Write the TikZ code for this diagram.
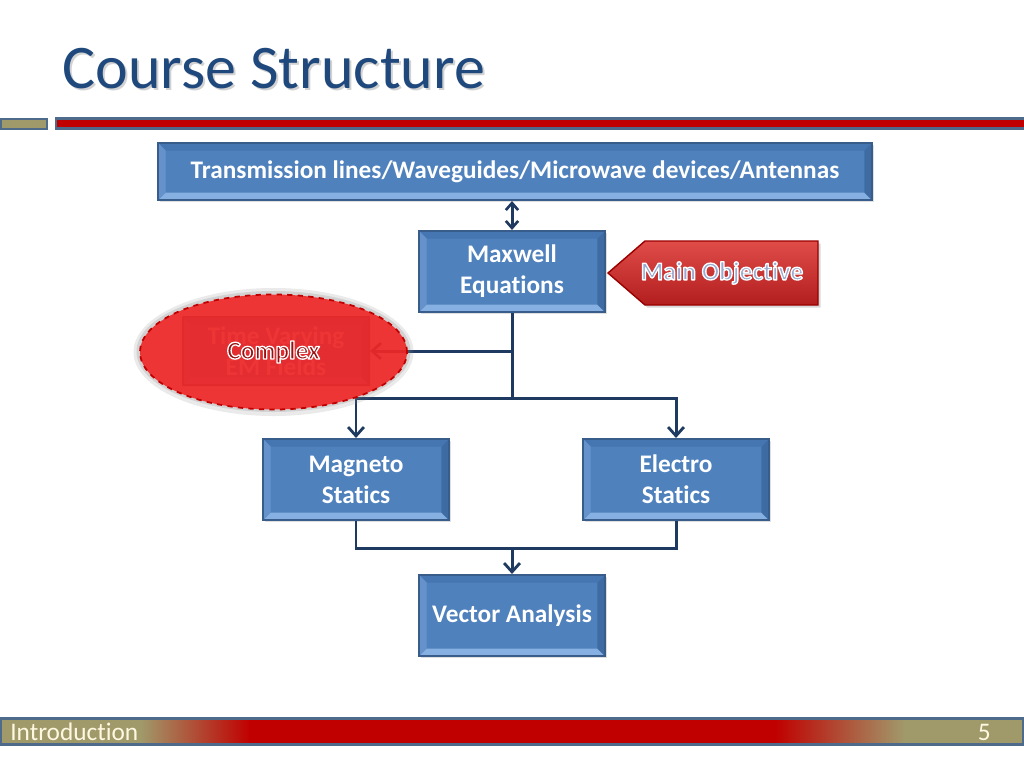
\documentclass[tikz,border=0pt]{standalone}
\usepackage{fontspec}
\setmainfont{Carlito}[Ligatures={NoCommon}]
\usetikzlibrary{arrows.meta,shapes.geometric,shadows}
\definecolor{titleblue}{HTML}{1F497D}
\definecolor{boxfill}{HTML}{4F81BD}
\definecolor{bevtop}{HTML}{4676B2}
\definecolor{bevbot}{HTML}{86AFE2}
\definecolor{bevleft}{HTML}{6592CB}
\definecolor{bevright}{HTML}{3F6BA3}
\definecolor{boxborder}{HTML}{385D8A}
\definecolor{navy}{HTML}{1F3A60}
\definecolor{olive}{HTML}{A09A6B}
\definecolor{barred}{HTML}{C00000}
\definecolor{barborder}{HTML}{4F6B8C}
\definecolor{cream}{HTML}{FFF8E1}
\definecolor{cxred}{HTML}{F22424}
\definecolor{cxborder}{HTML}{C00000}
\definecolor{cxtext}{HTML}{9A1010}
\definecolor{objtext}{HTML}{9AAAD0}
\newcommand{\bevw}{0.15cm}
\newcommand{\outlinetext}[2]{{\color{#1}\special{pdf:literal direct 1 1 1 RG 0.75 w 1 j 2 Tr}#2\special{pdf:literal direct 0 Tr}}}
\tikzset{
  bevel/.style={path picture={
    \coordinate (pnw) at (path picture bounding box.north west);
    \coordinate (pne) at (path picture bounding box.north east);
    \coordinate (psw) at (path picture bounding box.south west);
    \coordinate (pse) at (path picture bounding box.south east);
    \fill[bevtop] (pnw) -- (pne) -- ([shift={(-\bevw,-\bevw)}]pne) -- ([shift={(\bevw,-\bevw)}]pnw) -- cycle;
    \fill[bevbot] (psw) -- (pse) -- ([shift={(-\bevw,\bevw)}]pse) -- ([shift={(\bevw,\bevw)}]psw) -- cycle;
    \fill[bevleft] (pnw) -- (psw) -- ([shift={(\bevw,\bevw)}]psw) -- ([shift={(\bevw,-\bevw)}]pnw) -- cycle;
    \fill[bevright] (pne) -- (pse) -- ([shift={(-\bevw,\bevw)}]pse) -- ([shift={(-\bevw,-\bevw)}]pne) -- cycle;
  }},
  box/.style={rectangle, fill=boxfill, draw=boxborder, line width=1.2pt, bevel,
    minimum width=3.72cm, minimum height=1.62cm, inner sep=0pt,
    text=white, align=center, font=\fontsize{14.4}{17.6}\selectfont\bfseries,
    drop shadow={shadow xshift=1.2pt, shadow yshift=-1.2pt, opacity=0.25}},
  conn/.style={draw=navy, line width=1.7pt},
  arr/.style={-{Straight Barb[length=5pt,width=9pt,line width=1.6pt]}},
  darr/.style={{Straight Barb[length=4pt,width=7pt,line width=1.5pt]}-{Straight Barb[length=4pt,width=7pt,line width=1.5pt]}},
}
\begin{document}
\begin{tikzpicture}[x=0.02cm,y=-0.02cm]
\useasboundingbox (0,0) rectangle (1024,768);
\fill[white] (0,0) rectangle (1024,768);
% title with soft shadow
\node[anchor=base west, inner sep=0pt, text=gray, text opacity=0.35, font=\fontsize{35.3}{40}\selectfont] (titleshadow) at (64,90) {Course Structure};
\node[anchor=base west, inner sep=0pt, text=titleblue, font=\fontsize{35.3}{40}\selectfont] (title) at (62,88) {Course Structure};
% header bars
\draw[fill=olive, draw=barborder, line width=1.2pt] (1,119) rectangle (47,129);
\draw[fill=barred, draw=barborder, line width=1.2pt] (56,118.5) rectangle (1030,128.5);
% footer bar
\fill[olive] (0,719) rectangle (1024,744);
\shade[left color=olive, right color=barred] (140,719) rectangle (250,744);
\fill[barred] (249,719) rectangle (776,744);
\shade[left color=barred, right color=olive] (775,719) rectangle (905,744);
\draw[barborder, line width=1.4pt] (0.5,718.5) rectangle (1023.5,744.5);
\node[anchor=base west, inner sep=0pt, text=cream, font=\fontsize{14.4}{17}\selectfont] (foot) at (10,740) {Introduction};
\node[anchor=base east, inner sep=0pt, text=cream, font=\fontsize{14.4}{17}\selectfont] (page) at (991,740) {5};
% boxes
\node[box, minimum width=14.28cm, minimum height=1.14cm] (top) at (515,171.5) {Transmission lines/Waveguides/Microwave devices/Antennas};
\node[box] (max) at (512,271.5) {Maxwell\\Equations};
\node[box] (mag) at (356,479.5) {Magneto\\Statics};
\node[box] (ele) at (676,479.5) {Electro\\Statics};
\node[box] (vec) at (512,615.5) {Vector Analysis};
\node[box, minimum height=1.36cm] (tv) at (276,351) {Time Varying\\EM Fields};
% connectors
\coordinate (j1) at (512,398);
\coordinate (j2) at (512,548);
\draw[conn, darr] (max.north |- top.south) -- (max.north);
\draw[conn] (max.south) -- (j1);
\draw[conn, arr] (max.south |- tv.east) -- (tv.east);
\draw[conn, arr] (j1) -| (mag.north);
\draw[conn, arr] (j1) -| (ele.north);
\draw[conn] (mag.south) |- (j2);
\draw[conn] (ele.south) |- (j2);
\draw[conn, arr] (j2) -- (vec.north);
% complex ellipse with glow
\fill[gray, opacity=0.16] (273.5,352) ellipse (140 and 64);
\fill[gray, opacity=0.22] (273.5,351.5) ellipse (137 and 60.5);
\node[ellipse, fill=cxred, fill opacity=0.9, draw=cxborder, draw opacity=1, dashed, line width=1pt,
  minimum width=5.34cm, minimum height=2.3cm, text opacity=1,
  font=\fontsize{14.6}{17}\selectfont\bfseries] (cx) at (273.5,352) {\outlinetext{cxtext}{Complex}};
% main objective
\path[draw=cxborder!80!black, line width=0.8pt, top color={rgb,255:red,224;green,76;blue,72}, bottom color={rgb,255:red,178;green,30;blue,30},
  drop shadow={shadow xshift=1.5pt, shadow yshift=-1.5pt, opacity=0.3}]
  (608,273) -- (645,241) -- (818,241) -- (818,305) -- (645,305) -- cycle;
\node[font=\fontsize{14.6}{17}\selectfont\bfseries, inner sep=0pt] (obj) at (722,273) {\outlinetext{objtext}{Main Objective}};
\end{tikzpicture}
\end{document}
